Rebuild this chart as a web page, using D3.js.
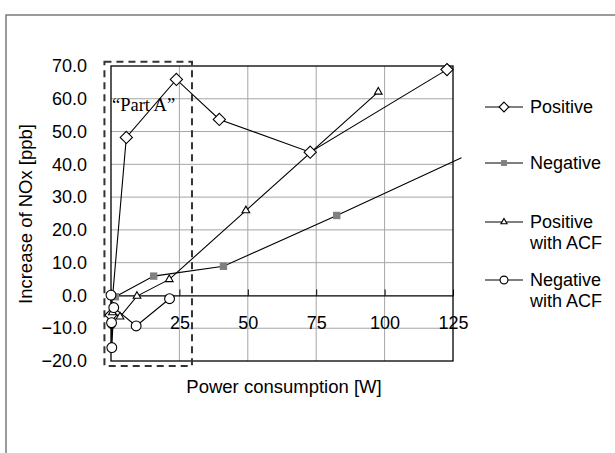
<!DOCTYPE html>
<html>
<head>
<meta charset="utf-8">
<script src="https://cdn.jsdelivr.net/npm/d3@7"></script>
<style>
  body { margin: 0; background: #fff; }
  text { font-family: "Liberation Sans", Arial, sans-serif; }
</style>
</head>
<body>
<div id="chart"></div>
<script>
// data (power [W], NOx increase [ppb])
var posX = [0, 5.6, 23.9, 39.6, 72.8, 122.8],
    posY = [-6.0, 48.2, 65.9, 53.7, 43.7, 68.9];
var negX = [1.6, 15.6, 41.1, 82.5, 128.1],
    negY = [-0.4, 5.9, 8.9, 24.4, 42.0];
var posAcfX = [0.5, 3.3, 9.5, 21.3, 49.3, 97.7],
    posAcfY = [-5.2, -6.5, -0.2, 4.9, 25.9, 62.1];
var negAcfX = [0, 0.2, 0.3, 1.0, 9.2, 21.4],
    negAcfY = [0.1, -8.3, -15.9, -3.7, -9.3, -1.0];

var xTicks = [0, 25, 50, 75, 100, 125];
var yTicks = [-20, -10, 0, 10, 20, 30, 40, 50, 60, 70];
var seriesNames = [["Positive"], ["Negative"], ["Positive", "with ACF"], ["Negative", "with ACF"]];
// "Part A" box, in data units
var partAX = [-2.4, 29.6], partAY = [-21.5, 71.3];

// set the dimensions and margins of the graph
var margin = {top: 66, right: 162, bottom: 92, left: 111},
    width = 615 - margin.left - margin.right,
    height = 453 - margin.top - margin.bottom;

var root = d3.select("#chart")
  .append("svg")
    .attr("width", 615)
    .attr("height", 453);

// outer frame (runs off the right and bottom edges)
root.append("rect")
  .attr("x", 6).attr("y", 15)
  .attr("width", 640).attr("height", 480)
  .attr("fill", "none")
  .attr("stroke", "#7a7a7a")
  .attr("stroke-width", 1.5);

var svg = root.append("g")
  .attr("transform", "translate(" + margin.left + "," + margin.top + ")");

var x = d3.scaleLinear().domain([0, 125]).range([0, width]);
var y = d3.scaleLinear().domain([-20, 70]).range([height, 0]);

//grid lines
svg.append("g").selectAll("line")
  .data(yTicks.filter(function(d) { return d != 0 && d != -20 && d != 70; }))
  .enter().append("line")
    .attr("x1", 0).attr("x2", width)
    .attr("y1", function(d) { return y(d); })
    .attr("y2", function(d) { return y(d); })
    .attr("stroke", "#a6a6a6");
svg.append("g").selectAll("line")
  .data(xTicks.filter(function(d) { return d != 0 && d != 125; }))
  .enter().append("line")
    .attr("y1", 0).attr("y2", height)
    .attr("x1", function(d) { return x(d); })
    .attr("x2", function(d) { return x(d); })
    .attr("stroke", "#a6a6a6");

// plot border
svg.append("rect")
  .attr("width", width).attr("height", height)
  .attr("fill", "none").attr("stroke", "#000").attr("stroke-width", 1.3);

// y axis labels
var yAxis = svg.append("g")
  .call(d3.axisLeft(y).tickValues(yTicks).tickSize(0).tickPadding(24).tickFormat(d3.format(".1f")));
yAxis.select(".domain").remove();
yAxis.selectAll("text").style("font-size", "18px").attr("fill", "#000");

// x axis crosses at zero
var xAxis = svg.append("g")
  .attr("transform", "translate(0," + y(0) + ")")
  .call(d3.axisBottom(x).tickValues(xTicks).tickSize(0).tickPadding(21).tickFormat(d3.format("d")));
xAxis.select(".domain").attr("stroke", "#000").attr("stroke-width", 1.3);
xAxis.selectAll("text").style("font-size", "18px").attr("fill", "#000");
xAxis.selectAll(".tick line").attr("y2", -6).attr("stroke", "#000");

// dashed "Part A" box
svg.append("rect")
  .attr("x", x(partAX[0])).attr("y", y(partAY[1]))
  .attr("width", x(partAX[1]) - x(partAX[0]))
  .attr("height", y(partAY[0]) - y(partAY[1]))
  .attr("fill", "none")
  .attr("stroke", "#333")
  .attr("stroke-width", 2)
  .attr("stroke-dasharray", "7,5");

svg.append("text")
  .attr("x", x(0) + 1).attr("y", y(60) + 12)
  .style("font-family", "'Liberation Serif', 'Times New Roman', serif")
  .style("font-size", "18.5px")
  .text("\u201cPart A\u201d");

// series
var series = [
  {xs: posX, ys: posY, shape: "diamond"},
  {xs: negX, ys: negY, shape: "square"},
  {xs: posAcfX, ys: posAcfY, shape: "triangle"},
  {xs: negAcfX, ys: negAcfY, shape: "circle"}
];

var line = d3.line()
  .x(function(d) { return x(d[0]); })
  .y(function(d) { return y(d[1]); });

function drawMarker(g, shape, big) {
  var k = big ? 1 : 0.8;
  if (shape == "diamond") {
    g.append("path").attr("d", d3.symbol(d3.symbolDiamond2, 95 * k * k)())
      .attr("fill", "#fff").attr("stroke", "#000").attr("stroke-width", 1.1)
      .attr("transform", "rotate(0)");
  } else if (shape == "square") {
    g.append("rect").attr("x", -3.7 * k).attr("y", -3.7 * k)
      .attr("width", 7.4 * k).attr("height", 7.4 * k).attr("fill", "#808080");
  } else if (shape == "triangle") {
    g.append("path").attr("d", d3.symbol(d3.symbolTriangle2, 42 * k * k)())
      .attr("fill", "#fff").attr("stroke", "#000").attr("stroke-width", 1.1);
  } else {
    g.append("circle").attr("r", 4.9 * k)
      .attr("fill", "#fff").attr("stroke", "#000").attr("stroke-width", 1.1);
  }
}

series.forEach(function(s) {
  var pts = s.xs.map(function(v, i) { return [v, s.ys[i]]; });
  svg.append("path")
    .datum(pts)
    .attr("d", line)
    .attr("fill", "none")
    .attr("stroke", "#000")
    .attr("stroke-width", 1.1);
});

series.forEach(function(s) {
  s.xs.forEach(function(v, i) {
    if (v > 125) return; // outside the axis, no marker
    var g = svg.append("g")
      .attr("transform", "translate(" + x(v) + "," + y(s.ys[i]) + ")");
    drawMarker(g, s.shape, true);
  });
});

// legend
var legendY = [107, 163, 222, 280];
seriesNames.forEach(function(names, i) {
  var g = root.append("g").attr("transform", "translate(485," + legendY[i] + ")");
  g.append("line").attr("x1", 0).attr("x2", 38)
    .attr("stroke", "#000").attr("stroke-width", 1.1);
  var m = g.append("g").attr("transform", "translate(19,0)");
  drawMarker(m, series[i].shape, false);
  names.forEach(function(t, j) {
    g.append("text")
      .attr("x", 45).attr("y", j * 21)
      .attr("dy", "0.36em")
      .style("font-size", "18px")
      .text(t);
  });
});

// axis titles
root.append("text")
  .attr("x", 284).attr("y", 393)
  .attr("text-anchor", "middle")
  .style("font-size", "18.5px")
  .text("Power consumption [W]");

root.append("text")
  .attr("transform", "translate(32,214) rotate(-90)")
  .attr("text-anchor", "middle")
  .style("font-size", "18.5px")
  .text("Increase of NOx [ppb]");
</script>
</body>
</html>
